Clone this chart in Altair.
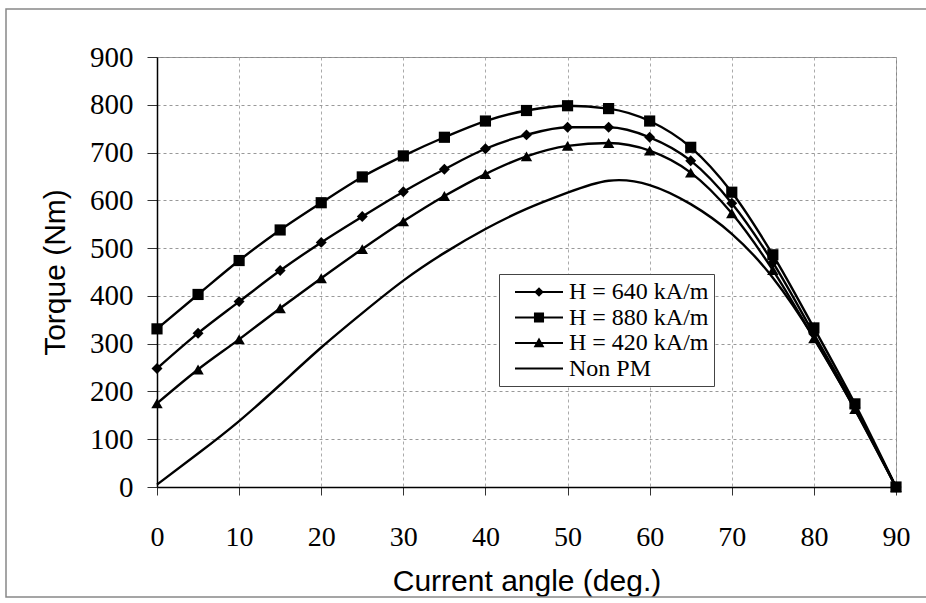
import altair as alt
import pandas as pd

# Current angle (degrees) and torque (Nm) for each magnet strength
angle = [0, 5, 10, 15, 20, 25, 30, 35, 40, 45, 50, 55, 60, 65, 70, 75, 80, 85, 90]
torque_640 = [248, 322, 388, 453, 512, 566, 618, 665, 708, 737, 753, 753, 732, 683, 594, 470, 320, 167, 0]
torque_880 = [331, 403, 474, 538, 595, 649, 693, 732, 766, 788, 798, 792, 766, 711, 617, 486, 333, 174, 0]
torque_420 = [175, 246, 309, 374, 437, 498, 556, 609, 655, 692, 714, 720, 704, 658, 573, 454, 311, 163, 0]
torque_nonpm = [5, 70, 138, 214, 292, 364, 432, 490, 540, 582, 616, 641, 632, 592, 530, 438, 312, 162, 0]

series_names = ["H = 640 kA/m", "H = 880 kA/m", "H = 420 kA/m", "Non PM"]
series_values = [torque_640, torque_880, torque_420, torque_nonpm]

rows = []
for name, vals in zip(series_names, series_values):
    for a, t in zip(angle, vals):
        rows.append({"angle": a, "torque": t, "series": name})
df = pd.DataFrame(rows)
df_pm = df[df["series"] != "Non PM"]
df_nonpm = df[df["series"] == "Non PM"]

x_enc = alt.X(
    "angle:Q",
    title="Current angle (deg.)",
    scale=alt.Scale(domain=[0, 90], nice=False),
    axis=alt.Axis(
        values=list(range(0, 91, 10)),
        labelFont="Liberation Serif", labelFontSize=28, labelColor="black",
        labelBaseline="alphabetic", labelPadding=50, labelFlush=False,
        tickSize=8, tickColor="#333", domainColor="black", domainWidth=1.5,
        grid=True, gridColor="#aaaaaa", gridDash=[3, 3], gridWidth=1,
        titleFont="Liberation Sans", titleFontSize=30, titleFontWeight="normal",
        titleColor="black", titleX=369.5, titleY=103, titleAlign="center",
        titleBaseline="alphabetic",
    ),
)
y_enc = alt.Y(
    "torque:Q",
    title="Torque (Nm)",
    scale=alt.Scale(domain=[0, 900], nice=False),
    axis=alt.Axis(
        values=list(range(0, 901, 100)),
        labelFont="Liberation Serif", labelFontSize=29, labelColor="black",
        labelPadding=14, tickSize=10, tickColor="#333",
        domainColor="black", domainWidth=1.5,
        grid=True, gridColor="#999999", gridDash=[3, 3], gridWidth=1,
        titleFont="Liberation Sans", titleFontSize=30, titleFontWeight="normal",
        titleColor="black", titleX=-102, titleY=215, titleAlign="center",
        titleBaseline="middle", titleAngle=-90,
    ),
)

pm_lines = alt.Chart(df_pm).mark_line(
    color="black", strokeWidth=2.4, interpolate="monotone"
).encode(x=x_enc, y=y_enc, detail="series:N")

nonpm_line = alt.Chart(df_nonpm).mark_line(
    color="black", strokeWidth=2.4, interpolate="natural"
).encode(x="angle:Q", y="torque:Q")

points = alt.Chart(df_pm).mark_point(
    filled=True, color="black", opacity=1
).encode(
    x="angle:Q",
    y="torque:Q",
    shape=alt.Shape(
        "series:N",
        scale=alt.Scale(
            domain=series_names[:3],
            range=["diamond", "square", "triangle-up"],
        ),
        legend=None,
    ),
    size=alt.Size(
        "series:N",
        scale=alt.Scale(domain=series_names[:3], range=[120, 130, 130]),
        legend=None,
    ),
)

# legend entries: a short bar (the line) with the series marker in its middle,
# all drawn as filled outlines
legend_paths = [
    "M-2,-0.09H2V0.09H-2ZM0,-0.4L0.4,0L0,0.4L-0.4,0Z",
    "M-2,-0.09H2V0.09H-2ZM-0.42,-0.42H0.42V0.42H-0.42Z",
    "M-2,-0.09H2V0.09H-2ZM0,-0.45L0.45,0.35H-0.45Z",
    "M-2,-0.09H2V0.09H-2Z",
]
legend_layer = alt.Chart(df).mark_point(
    filled=True, color="black", opacity=0
).encode(
    x="angle:Q",
    y="torque:Q",
    shape=alt.Shape(
        "series:N",
        scale=alt.Scale(domain=series_names, range=legend_paths),
        legend=alt.Legend(
            title=None, orient="none", legendX=342, legendY=217,
            direction="vertical",
            labelFont="Liberation Serif", labelFontSize=24, labelColor="black",
            symbolSize=576, symbolFillColor="black",
            symbolStrokeWidth=2, symbolOpacity=1,
            symbolOffset=22, labelOffset=17,
            padding=5, rowPadding=0.5,
            strokeColor="#444444", fillColor="white",
        ),
    ),
)

frame = alt.Chart(pd.DataFrame({"k": [0]})).mark_rect(
    fillOpacity=0, stroke="#888888", strokeWidth=1.5
).encode(
    x=alt.value(-151), x2=alt.value(775), y=alt.value(-48), y2=alt.value(540)
)

chart = alt.layer(frame, pm_lines, nonpm_line, points, legend_layer).resolve_scale(
    shape="independent", size="independent"
).properties(
    width=739,
    height=430,
    autosize=alt.AutoSizeParams(type="none"),
    padding={"left": 157, "top": 57, "right": 30, "bottom": 116},
    background="white",
).configure_view(
    stroke="#888888", strokeWidth=1
)

chart.save("out.html", embed_options={"renderer": "svg", "actions": False})
